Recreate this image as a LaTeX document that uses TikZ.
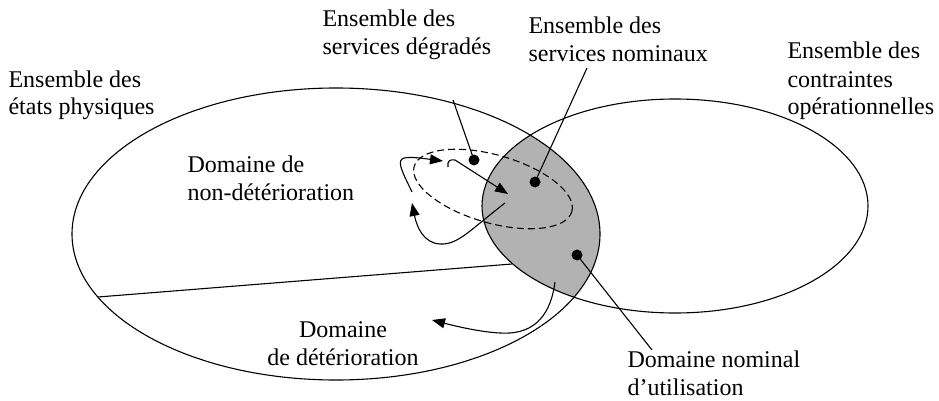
\documentclass[tikz,border=0pt]{standalone}
\usepackage{fontspec}
\setmainfont{Liberation Serif}
\usetikzlibrary{arrows.meta}
\begin{document}
\begin{tikzpicture}[x=1pt,y=-1pt, line width=1.1pt,
  lbl/.style={font=\fontsize{24}{28}\selectfont, inner sep=0pt, align=left, anchor=base west},
  dotnode/.style={circle, fill=black, inner sep=0pt, minimum size=11pt},
  tip/.style={-{Triangle[length=13pt,width=10pt]}},
  dashline/.style={dash pattern=on 7pt off 4pt}]
\useasboundingbox (0,0) rectangle (939,401);
% shaded lens
\begin{scope}
  \clip (336,234) ellipse [x radius=264pt, y radius=146pt];
  \fill[black!30] (675,206) ellipse [x radius=193pt, y radius=107pt];
\end{scope}
% divider
\coordinate (divA) at (98,297);
\coordinate (divB) at (512,264);
\draw (divA) -- (divB);
% ellipses
\draw (336,234) ellipse [x radius=264pt, y radius=146pt];
\draw (675,206) ellipse [x radius=193pt, y radius=107pt];
\begin{scope}[shift={(493,189)}, rotate=-16]
  \draw[dashline] (0,0) ellipse [x radius=82pt, y radius=34pt];
\end{scope}
% dots
\node[dotnode] (d1) at (474,160) {};
\node[dotnode] (d2) at (535,182) {};
\node[dotnode] (d3) at (577,255) {};
% labels (anchor at the baseline of the last line)
\node[lbl] (tphys) at (8,115) {Ensemble des\\états physiques};
\node[lbl] (tdeg) at (322,55) {Ensemble des\\services dégradés};
\node[lbl] (tnom) at (528,62) {Ensemble des\\services nominaux};
\node[lbl] (tcon) at (787,115) {Ensemble des\\contraintes\\opérationnelles};
\node[lbl] (tnd) at (187,200) {Domaine de\\non-détérioration};
\node[lbl, align=center, anchor=base] (tdet) at (343,365) {Domaine\\de détérioration};
\node[lbl] (tdn) at (627,395) {Domaine nominal\\d’utilisation};
% leader lines
\coordinate (l1) at (453,100);
\coordinate (l2) at (587,68);
\coordinate (l3) at (652,350);
\draw (l1) -- (d1.center);
\draw (l2) -- (d2.center);
\draw (d3.center) -- (l3);
% arrows
\coordinate (a1s) at (448,167);
\coordinate (a1e) at (508,194);
\draw[tip] (a1s) .. controls (447,161) and (450,159) .. (455,160) -- (a1e);
\coordinate (a2s) at (505,203);
\coordinate (a2e) at (412,203);
\draw[tip] (a2s) .. controls (470,230) and (458,245) .. (440,244) .. controls (424,243) and (417,228) .. (a2e);
\coordinate (a3s) at (412,192);
\coordinate (a3e) at (443,161);
\draw[tip] (a3s) .. controls (404,175) and (397,163) .. (402,159) .. controls (406,156) and (420,158) .. (a3e);
\coordinate (a4s) at (555,282);
\coordinate (a4e) at (432,320);
\draw[tip] (a4s) .. controls (550,320) and (530,335) .. (500,333) .. controls (480,332) and (455,326) .. (a4e);
\end{tikzpicture}
\end{document}
